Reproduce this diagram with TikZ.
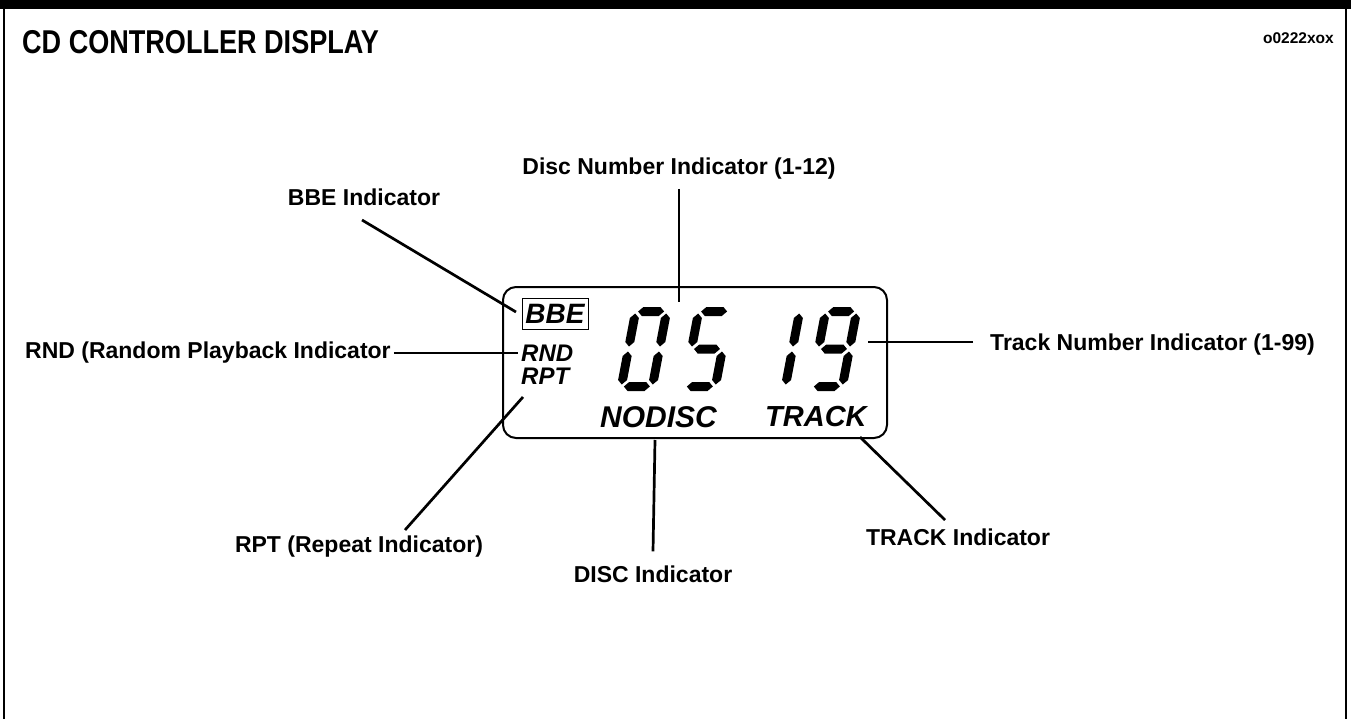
\documentclass[tikz,border=0pt]{standalone}
\usepackage{fontspec}
\usepackage{graphicx}
\setmainfont{Liberation Sans}
\tikzset{
  lbl/.style={font=\bfseries\fontsize{23}{23}\selectfont, inner sep=0pt},
  lcd/.style={font=\bfseries\itshape\fontsize{24}{24}\selectfont, inner sep=0pt},
  conn/.style={line width=2.7pt},
  hseg/.pic={\fill (7,#1) -- (11.5,#1+4.5) -- (28.5,#1+4.5) -- (33,#1) -- (28.5,#1-4.5) -- (11.5,#1-4.5) -- cycle;},
  vsegL/.pic={\fill (4.5,#1) -- (9,#1+4.5) -- (9,#1+28.5) -- (4.5,#1+33) -- (0,#1+28.5) -- (0,#1+4.5) -- cycle;},
  vsegR/.pic={\fill (35.5,#1) -- (40,#1+4.5) -- (40,#1+28.5) -- (35.5,#1+33) -- (31,#1+28.5) -- (31,#1+4.5) -- cycle;},
  sa/.pic={\pic{hseg=79.5};},
  sd/.pic={\pic{hseg=4.5};},
  sg/.pic={\pic{hseg=42};},
  sb/.pic={\pic{vsegR=44.5};},
  sc/.pic={\pic{vsegR=6.5};},
  se/.pic={\pic{vsegL=6.5};},
  sf/.pic={\pic{vsegL=44.5};},
  digit/.style={y=1pt, xslant=0.19, transform shape}
}
\begin{document}
\begin{tikzpicture}[x=1pt,y=-1pt]
\useasboundingbox (0,0) rectangle (1351,719);
% frame
\fill (0,0) rectangle (1351,9);
\draw[line width=2pt] (4,0) -- (4,719);
\draw[line width=2pt] (1346,0) -- (1346,719);
% title
\node[anchor=base west, inner sep=0pt] (title) at (22,54) {\scalebox{0.82}[1]{\fontsize{33}{33}\selectfont\bfseries CD CONTROLLER DISPLAY}};
\node[anchor=east, inner sep=0pt, font=\bfseries\fontsize{15.5}{15.5}\selectfont] (code) at (1334,38) {o0222xox};
% display
\node[draw, line width=2pt, rounded corners=13pt, minimum width=384pt, minimum height=151pt, inner sep=0pt] (disp) at (695,362.5) {};
\node[draw, line width=0.8pt, minimum width=66pt, minimum height=31pt, inner sep=0pt, font=\bfseries\itshape\fontsize{28}{28}\selectfont] (bbe) at (555,313.5) {BBE};
\node[lcd, anchor=west] (rnd) at (521,353) {RND};
\node[lcd, anchor=west] (rpt) at (521,376) {RPT};
\node[lcd, anchor=west, font=\bfseries\itshape\fontsize{30}{30}\selectfont] (nodisc) at (600,417) {NODISC};
\node[lcd, anchor=west, font=\bfseries\itshape\fontsize{29}{29}\selectfont] (track) at (765,417) {TRACK};
% digits
\begin{scope}[shift={(616,391)}, digit]
  \pic{sa}; \pic{sb}; \pic{sc}; \pic{sd}; \pic{se}; \pic{sf};
\end{scope}
\begin{scope}[shift={(679,391)}, digit]
  \pic{sa}; \pic{sf}; \pic{sg}; \pic{sc}; \pic{sd};
\end{scope}
\begin{scope}[shift={(749,391)}, digit]
  \pic{sb}; \pic{sc};
\end{scope}
\begin{scope}[shift={(806,391)}, digit]
  \pic{sa}; \pic{sb}; \pic{sc}; \pic{sd}; \pic{sf}; \pic{sg};
\end{scope}
% labels
\node[lbl] (dnl) at (679,169) {Disc Number Indicator (1-12)};
\node[lbl] (bbel) at (364,197) {BBE Indicator};
\node[lbl, anchor=west] (rndl) at (25,353) {RND (Random Playback Indicator};
\node[lbl, anchor=west] (tnl) at (990,345) {Track Number Indicator (1-99)};
\node[lbl] (rptl) at (359,547) {RPT (Repeat Indicator)};
\node[lbl] (discl) at (653,574) {DISC Indicator};
\node[lbl] (trkl) at (958,537) {TRACK Indicator};
% connector end points
\coordinate (dnend) at (679,302);
\coordinate (bbestart) at (362,220);
\coordinate (bbeend) at (516,312);
\coordinate (tnend) at (868,342);
\coordinate (tnstart) at (973,342);
\coordinate (rptend) at (523,397);
\coordinate (rptstart) at (405,530);
\coordinate (discend) at (655,440);
\coordinate (trkend) at (860,437);
\coordinate (trkstart) at (945,520);
% connectors
\draw[conn] ([yshift=-9pt]dnl.south) -- (dnend);
\draw[conn] (bbestart) -- (bbeend);
\draw[conn] ([xshift=3pt]rndl.east) -- ([xshift=-3pt]rnd.west);
\draw[conn] (tnstart) -- (tnend);
\draw[conn] (rptstart) -- (rptend);
\draw[conn] ([yshift=14pt]discl.north) -- (discend);
\draw[conn] (trkstart) -- (trkend);
\end{tikzpicture}
\end{document}
